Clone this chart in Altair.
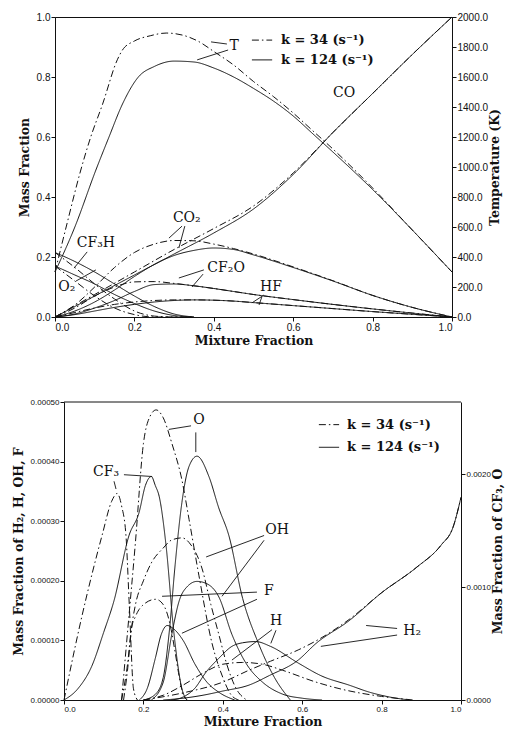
import altair as alt
import pandas as pd

# ---------------- TOP PANEL DATA (mixture fraction -> mass fraction / K) ----------------
CO_X = [0, 0.1, 0.2, 0.3, 0.4, 0.5, 0.6, 0.7, 0.8, 0.9, 1.0]
CO_124 = [0, 0.07, 0.14, 0.21, 0.28, 0.36, 0.475, 0.615, 0.745, 0.875, 1.0]
CO_34 = [0, 0.075, 0.15, 0.225, 0.295, 0.37, 0.48, 0.615, 0.745, 0.875, 1.0]

O2_X = [0, 0.05, 0.1, 0.15, 0.2, 0.25, 0.3, 0.35]
O2_124 = [0.215, 0.185, 0.15, 0.11, 0.07, 0.035, 0.01, 0]
O2_34 = [0.215, 0.165, 0.11, 0.06, 0.02, 0.003, 0, 0]
CF3H_124 = [0.17, 0.14, 0.11, 0.075, 0.045, 0.02, 0.005, 0]
CF3H_34 = [0.17, 0.12, 0.07, 0.03, 0.008, 0, 0, 0]

SP_X = [0, 0.05, 0.1, 0.15, 0.2, 0.25, 0.3, 0.35, 0.4, 0.45, 0.5, 0.6, 0.7, 0.8, 0.9, 1.0]
CO2_124 = [0, 0.02, 0.05, 0.09, 0.135, 0.175, 0.205, 0.222, 0.23, 0.225, 0.207, 0.165, 0.12, 0.072, 0.032, 0]
CO2_34 = [0, 0.04, 0.1, 0.165, 0.215, 0.243, 0.255, 0.254, 0.243, 0.228, 0.21, 0.167, 0.121, 0.072, 0.032, 0]
CF2O_124 = [0, 0.01, 0.03, 0.055, 0.085, 0.108, 0.11, 0.104, 0.095, 0.085, 0.075, 0.058, 0.042, 0.027, 0.013, 0]
CF2O_34 = [0, 0.03, 0.07, 0.1, 0.117, 0.118, 0.112, 0.104, 0.095, 0.085, 0.075, 0.058, 0.042, 0.027, 0.013, 0]
HF_124 = [0, 0.008, 0.02, 0.032, 0.042, 0.05, 0.055, 0.057, 0.056, 0.053, 0.048, 0.038, 0.028, 0.018, 0.009, 0]
HF_34 = [0, 0.015, 0.03, 0.042, 0.05, 0.055, 0.057, 0.057, 0.056, 0.053, 0.048, 0.038, 0.028, 0.018, 0.009, 0]

T124_X = [0, 0.05, 0.103, 0.136, 0.17, 0.21, 0.25, 0.3, 0.35, 0.4, 0.45, 0.5, 0.55, 0.6, 0.65, 0.7, 0.8, 0.9, 1.0]
T124_K = [300, 600, 980, 1200, 1420, 1600, 1670, 1706, 1700, 1660, 1600, 1524, 1440, 1340, 1220, 1100, 850, 580, 300]
T34_X = [0, 0.03, 0.065, 0.09, 0.12, 0.157, 0.17, 0.2, 0.24, 0.28, 0.32, 0.363, 0.4, 0.45, 0.5, 0.55, 0.6, 0.65, 0.7, 0.8, 0.9, 1.0]
T34_K = [300, 620, 980, 1200, 1420, 1715, 1780, 1840, 1875, 1893, 1880, 1835, 1770, 1680, 1570, 1470, 1360, 1240, 1120, 860, 580, 300]

TOP_LABELS = ["T", "CO", "CO₂", "CF₃H", "O₂", "CF₂O", "HF"]
TOP_LABEL_X = [0.451, 0.728, 0.332, 0.103, 0.03, 0.431, 0.544]
TOP_LABEL_Y = [0.903, 0.747, 0.33, 0.247, 0.1, 0.163, 0.1]
TOP_LEAD_X = [0.433, 0.436, 0.32, 0.327, 0.081, 0.053, 0.375, 0.373, 0.526, 0.521]
TOP_LEAD_Y = [0.91, 0.89, 0.303, 0.303, 0.217, 0.12, 0.157, 0.143, 0.073, 0.067]
TOP_LEAD_X2 = [0.393, 0.358, 0.287, 0.312, 0.048, 0.103, 0.312, 0.345, 0.496, 0.514]
TOP_LEAD_Y2 = [0.917, 0.857, 0.263, 0.23, 0.163, 0.157, 0.13, 0.1, 0.047, 0.04]

# ---------------- BOTTOM PANEL DATA ----------------
CF3_34_X = [0, 0.045, 0.096, 0.12, 0.134, 0.145, 0.156, 0.165, 0.175, 0.185]
CF3_34 = [0, 0.00074, 0.00146, 0.00176, 0.00183, 0.00172, 0.00146, 0.0008, 0.0001, 0]
CF3_124_X = [0, 0.035, 0.07, 0.1, 0.126, 0.164, 0.189, 0.205, 0.22, 0.23, 0.24, 0.257, 0.277, 0.297, 0.31]
CF3_124 = [0, 0.0001, 0.0003, 0.0006, 0.00088, 0.00146, 0.00166, 0.0019, 0.00198, 0.0019, 0.0018, 0.00137, 0.00059, 0.0001, 0]
O_34_X = [0.145, 0.16, 0.18, 0.2, 0.215, 0.232, 0.25, 0.272, 0.297, 0.315, 0.34, 0.373, 0.4, 0.42, 0.44]
O_34 = [0, 0.0006, 0.0014, 0.00227, 0.0025, 0.00257, 0.0025, 0.00227, 0.00195, 0.0016, 0.0011, 0.0005, 0.0002, 0.00005, 0]
O_124_X = [0.2, 0.23, 0.25, 0.265, 0.28, 0.297, 0.315, 0.335, 0.365, 0.39, 0.415, 0.45, 0.49, 0.53, 0.57]
O_124 = [0, 0.00005, 0.0002, 0.0006, 0.0012, 0.00175, 0.00207, 0.00216, 0.00198, 0.0017, 0.00146, 0.0009, 0.0005, 0.0002, 0]

OH_34_X = [0.15, 0.16, 0.17, 0.18, 0.2, 0.22, 0.25, 0.27, 0.297, 0.32, 0.348, 0.37, 0.39, 0.41, 0.433, 0.46]
OH_34 = [0, 0.00005, 0.00012, 0.00016, 0.0002, 0.00023, 0.000255, 0.000268, 0.000272, 0.00026, 0.00022, 0.00016, 0.00011, 0.00006, 0.00002, 0]
OH_124_X = [0.22, 0.25, 0.272, 0.29, 0.31, 0.335, 0.36, 0.39, 0.423, 0.46, 0.5, 0.55, 0.6, 0.65]
OH_124 = [0, 0.00003, 0.000112, 0.000166, 0.00019, 0.000199, 0.000195, 0.000173, 0.00011, 0.00006, 0.00003, 0.00001, 0.000003, 0]
F_34_X = [0.145, 0.16, 0.17, 0.18, 0.2, 0.231, 0.25, 0.265, 0.28, 0.29, 0.3, 0.31]
F_34 = [0, 0.00006, 0.00012, 0.00014, 0.00016, 0.000169, 0.00016, 0.000133, 0.00008, 0.00004, 0.00001, 0]
F_124_X = [0.19, 0.21, 0.23, 0.245, 0.26, 0.275, 0.3, 0.33, 0.36, 0.39, 0.43]
F_124 = [0, 0.00002, 0.00007, 0.00011, 0.000125, 0.00012, 0.0001, 0.00006, 0.00003, 0.000013, 0]
H_124_X = [0.27, 0.3, 0.33, 0.357, 0.39, 0.423, 0.45, 0.483, 0.52, 0.59, 0.65, 0.718, 0.77, 0.82, 0.87]
H_124 = [0, 0.000005, 0.00002, 0.000046, 0.00007, 0.00009, 0.000096, 0.000098, 0.00009, 0.000062, 0.00004, 0.000025, 0.000013, 0.000005, 0]
H_34_X = [0.2, 0.25, 0.3, 0.35, 0.4, 0.45, 0.5, 0.55, 0.635, 0.7, 0.8, 0.88]
H_34 = [0, 0.000008, 0.000025, 0.000045, 0.00006, 0.000063, 0.00006, 0.00005, 0.00003, 0.000018, 0.000006, 0]
H2_124_X = [0.25, 0.3, 0.35, 0.4, 0.466, 0.517, 0.59, 0.635, 0.718, 0.8, 0.887, 0.95, 0.98, 1.0]
H2_124 = [0, 0.000003, 0.000008, 0.000015, 0.000025, 0.000041, 0.000067, 0.000095, 0.000133, 0.00018, 0.000222, 0.00026, 0.00029, 0.00034]
H2_34_X = [0.2, 0.3, 0.4, 0.466, 0.52, 0.59, 0.65, 0.718, 0.8, 0.887, 0.95, 0.98, 1.0]
H2_34 = [0, 0.000012, 0.00003, 0.00005, 0.000065, 0.000084, 0.000105, 0.000135, 0.00018, 0.000222, 0.00026, 0.00029, 0.00034]

BOT_LABELS = ["O", "CF₃", "OH", "F", "H", "H₂"]
BOT_LABEL_X = [0.34, 0.106, 0.537, 0.516, 0.534, 0.877]
BOT_LABEL_Y = [0.000469, 0.000383, 0.000285, 0.000183, 0.000132, 0.000115]
BOT_LEAD_X = [0.32, 0.332, 0.151, 0.126, 0.504, 0.504, 0.486, 0.486, 0.524, 0.534, 0.839, 0.839]
BOT_LEAD_Y = [0.00046, 0.000449, 0.000378, 0.000367, 0.000276, 0.000268, 0.000181, 0.000169, 0.000118, 0.000117, 0.00012, 0.000109]
BOT_LEAD_X2 = [0.264, 0.332, 0.222, 0.131, 0.358, 0.398, 0.247, 0.297, 0.423, 0.521, 0.761, 0.647]
BOT_LEAD_Y2 = [0.000454, 0.000416, 0.000375, 0.000354, 0.00024, 0.000174, 0.000174, 0.000112, 0.000067, 0.000095, 0.000125, 0.00009]

LEGEND_K = ["34", "124"]
LEGEND_TEXT = ["k = 34 (s⁻¹)", "k = 124 (s⁻¹)"]
TOP_LEG_Y = [0.923, 0.857]
TOP_LEG_X = [0.496, 0.547, 0.569]
BOT_LEG_Y = [0.000462, 0.000424]
BOT_LEG_X = [0.642, 0.693, 0.713]

X_TICKS = [0, 0.2, 0.4, 0.6, 0.8, 1.0]
BOT_Y_MAX = 0.0005

# ---------------- helpers ----------------
def frame(series):
    rows = []
    for name, k, xs, ys in series:
        for a, b in zip(xs, ys):
            rows.append({"id": f"{name} {k}", "k": k, "x": a, "y": b})
    return pd.DataFrame(rows)

DASH = alt.StrokeDash("k:N", scale=alt.Scale(domain=["34", "124"], range=[[7, 3, 1.5, 3], [1, 0]]), legend=None)
INK = "#111111"
SERIF = "DejaVu Serif"


def lines(df, y_enc, x_enc):
    return alt.Chart(df).mark_line(color=INK, strokeWidth=1, interpolate="monotone").encode(
        x=x_enc, y=y_enc, detail="id:N", strokeDash=DASH)


def annotations(labels, lx, ly, ax, ay, ax2, ay2, legx, legy, fs):
    lab = alt.Chart(pd.DataFrame({"t": labels, "x": lx, "y": ly})).mark_text(
        font=SERIF, fontSize=fs, color=INK, align="center", baseline="middle").encode(
        x="x:Q", y="y:Q", text="t:N")
    lead = alt.Chart(pd.DataFrame({"x": ax, "y": ay, "x2": ax2, "y2": ay2})).mark_rule(
        color=INK, strokeWidth=0.9).encode(x="x:Q", y="y:Q", x2="x2:Q", y2="y2:Q")
    legdf = pd.DataFrame({"k": LEGEND_K, "y": legy, "x": [legx[0]] * 2, "x2": [legx[1]] * 2})
    legl = alt.Chart(legdf).mark_rule(color=INK, strokeWidth=1).encode(
        x="x:Q", x2="x2:Q", y="y:Q", strokeDash=DASH)
    legtdf = pd.DataFrame({"t": LEGEND_TEXT, "y": legy, "x": [legx[2]] * 2})
    legt = alt.Chart(legtdf).mark_text(font=SERIF, fontSize=13, fontWeight="bold", color=INK,
                                       align="left", baseline="middle").encode(
        x="x:Q", y="y:Q", text="t:N")
    return [lab, lead, legl, legt]


# ---------------- TOP PANEL ----------------
top_left_df = frame([
    ("CO", "124", CO_X, CO_124), ("CO", "34", CO_X, CO_34),
    ("O2", "124", O2_X, O2_124), ("O2", "34", O2_X, O2_34),
    ("CF3H", "124", O2_X, CF3H_124), ("CF3H", "34", O2_X, CF3H_34),
    ("CO2", "124", SP_X, CO2_124), ("CO2", "34", SP_X, CO2_34),
    ("CF2O", "124", SP_X, CF2O_124), ("CF2O", "34", SP_X, CF2O_34),
    ("HF", "124", SP_X, HF_124), ("HF", "34", SP_X, HF_34),
])
top_T_df = frame([("T", "124", T124_X, T124_K), ("T", "34", T34_X, T34_K)])

x_top = alt.X("x:Q", scale=alt.Scale(domain=[0, 1], nice=False),
              axis=alt.Axis(values=X_TICKS, format=".1f", title="Mixture Fraction", labelFontSize=10))
y_top = alt.Y("y:Q", scale=alt.Scale(domain=[0, 1], nice=False),
              axis=alt.Axis(values=[0, 0.2, 0.4, 0.6, 0.8, 1.0], format=".1f", title="Mass Fraction",
                            labelFontSize=10, titlePadding=5))
y_T = alt.Y("y:Q", scale=alt.Scale(domain=[0, 2000], nice=False),
            axis=alt.Axis(orient="right", values=list(range(0, 2001, 200)), format=".1f",
                          title="Temperature (K)", titleAngle=270, titleBaseline="top",
                          labelFontSize=10, titlePadding=1))

top_left = alt.layer(lines(top_left_df, y_top, x_top),
                     *annotations(TOP_LABELS, TOP_LABEL_X, TOP_LABEL_Y, TOP_LEAD_X, TOP_LEAD_Y,
                                  TOP_LEAD_X2, TOP_LEAD_Y2, TOP_LEG_X, TOP_LEG_Y, 14))
top = alt.layer(top_left, lines(top_T_df, y_T, x_top)).resolve_scale(y="independent").properties(
    width=397, height=300)

# ---------------- BOTTOM PANEL ----------------
bot_left_df = frame([
    ("OH", "34", OH_34_X, OH_34), ("OH", "124", OH_124_X, OH_124),
    ("F", "34", F_34_X, F_34), ("F", "124", F_124_X, F_124),
    ("H", "34", H_34_X, H_34), ("H", "124", H_124_X, H_124),
    ("H2", "34", H2_34_X, H2_34), ("H2", "124", H2_124_X, H2_124),
])
bot_right_df = frame([
    ("CF3", "34", CF3_34_X, CF3_34), ("CF3", "124", CF3_124_X, CF3_124),
    ("O", "34", O_34_X, O_34), ("O", "124", O_124_X, O_124),
])
# bottom plot sits 9 px further right than the top one
x_bot = alt.X("x:Q", scale=alt.Scale(domain=[0, 1], nice=False, range=[9, 406]),
              axis=alt.Axis(values=X_TICKS, format=".1f", title="Mixture Fraction", labelFontSize=8))
y_bot = alt.Y("y:Q", scale=alt.Scale(domain=[0, BOT_Y_MAX], nice=False),
              axis=alt.Axis(values=[0, 0.0001, 0.0002, 0.0003, 0.0004, 0.0005], format=".5f",
                            title="Mass Fraction of H₂, H, OH, F", labelFontSize=8, offset=-9,
                            titlePadding=5))
y_bot_r = alt.Y("y:Q", scale=alt.Scale(domain=[0, 0.00264], nice=False),
                axis=alt.Axis(orient="right", values=[0, 0.001, 0.002], format=".4f",
                              title="Mass Fraction of CF₃, O", titleAngle=270, titleBaseline="top",
                              labelFontSize=8, titlePadding=1))

bot_frame = alt.Chart(pd.DataFrame({"x": [0], "x2": [1], "y": [BOT_Y_MAX]})).mark_rule(
    color=INK, strokeWidth=1).encode(x="x:Q", x2="x2:Q", y="y:Q")

bot_left = alt.layer(lines(bot_left_df, y_bot, x_bot), bot_frame,
                     *annotations(BOT_LABELS, BOT_LABEL_X, BOT_LABEL_Y, BOT_LEAD_X, BOT_LEAD_Y,
                                  BOT_LEAD_X2, BOT_LEAD_Y2, BOT_LEG_X, BOT_LEG_Y, 14))
bottom = alt.layer(bot_left, lines(bot_right_df, y_bot_r, x_bot)).resolve_scale(y="independent").properties(
    width=406, height=298, view=alt.ViewBackground(stroke="transparent"))

chart = alt.vconcat(top, bottom, spacing=50).properties(
    padding={"left": 3, "top": 3, "right": 0, "bottom": 0}
).configure_view(stroke=INK, strokeWidth=1).configure_axis(
    grid=False, domainColor=INK, tickColor=INK, labelColor=INK, titleColor=INK,
    labelFont="Liberation Sans", titleFont=SERIF, titleFontSize=12.5, titleFontWeight="bold",
    tickSize=4, labelPadding=1, titlePadding=2
)

chart.save("out.html", embed_options={"renderer": "svg", "actions": False})
